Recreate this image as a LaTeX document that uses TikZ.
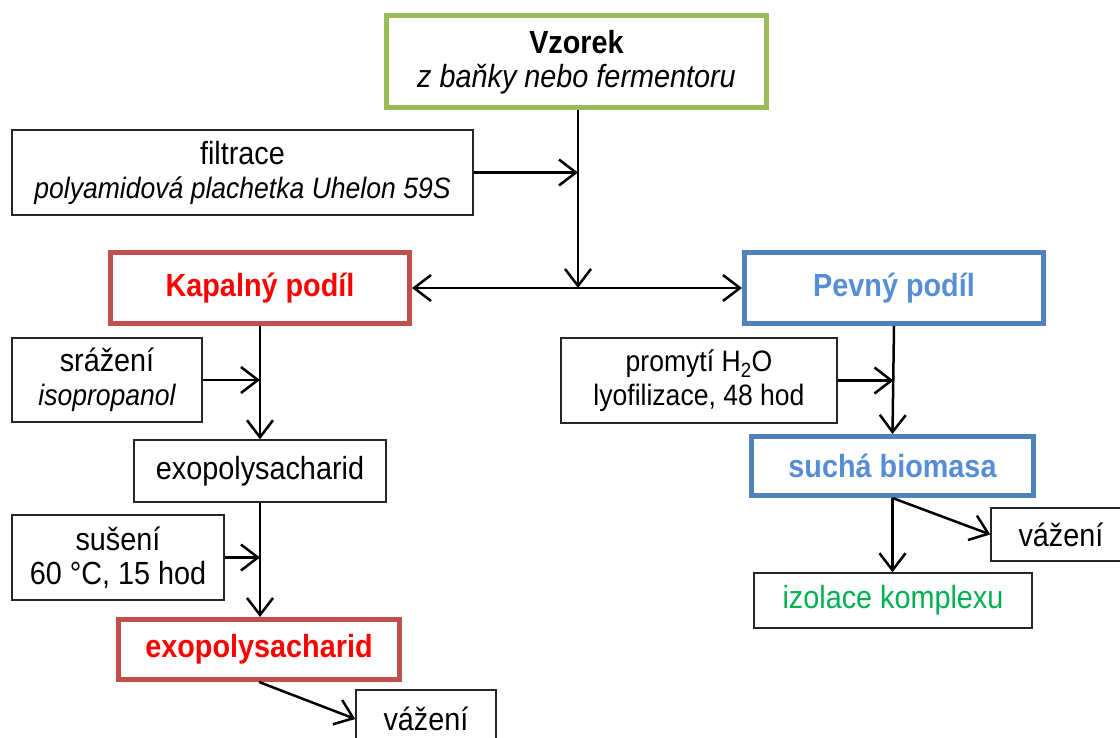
\documentclass[tikz,border=0pt]{standalone}
\usepackage{fontspec}
\setmainfont{Liberation Sans}[FakeStretch=0.9]
\usetikzlibrary{arrows.meta}
\definecolor{bgreen}{HTML}{9BBB59}
\definecolor{bred}{HTML}{C0504D}
\definecolor{bblue}{HTML}{4F81BD}
\definecolor{tred}{HTML}{FF0000}
\definecolor{tblue}{HTML}{558ED5}
\definecolor{tgreen}{HTML}{00B050}
\newcommand{\bigtxt}{\fontsize{32}{34}\selectfont}
\newcommand{\smtxt}{\fontsize{29.5}{34}\selectfont}
\tikzset{
  base/.style={rectangle, inner sep=0pt, align=center, font=\bigtxt},
  plain/.style={base, draw=black!85, line width=1.4pt},
  greenbox/.style={base, draw=bgreen, line width=5pt},
  redbox/.style={base, draw=bred, line width=5pt, text=tred, font=\bigtxt\bfseries},
  bluebox/.style={base, draw=bblue, line width=5pt, text=tblue, font=\bigtxt\bfseries},
  arr/.style={line width=2.5pt, -{Straight Barb[length=17pt,width=26pt]}},
}
\begin{document}
\begin{tikzpicture}[x=1pt,y=-1pt]
\useasboundingbox (0,0) rectangle (1120,738);
\clip (0,0) rectangle (1120,738);
\node[greenbox, minimum width=380pt, minimum height=92pt] (vz) at (576.5,62)
  {\textbf{Vzorek}\\\textit{z baňky nebo fermentoru}};
\node[plain, minimum width=461pt, minimum height=85pt] (fil) at (242.5,172.5)
  {filtrace\\\smtxt\itshape polyamidová plachetka Uhelon 59S};
\node[redbox, minimum width=299pt, minimum height=71pt] (kap) at (260,288) {Kapalný podíl};
\node[bluebox, minimum width=299pt, minimum height=71pt] (pev) at (894,288) {Pevný podíl};
\node[plain, minimum width=190pt, minimum height=84pt] (sra) at (107,380)
  {srážení\\\smtxt\itshape isopropanol};
\node[plain, minimum width=252pt, minimum height=62pt] (exo) at (260,471) {exopolysacharid};
\node[plain, minimum width=212pt, minimum height=85pt] (sus) at (118,557.5)
  {sušení\\60 °C, 15 hod};
\node[redbox, minimum width=281pt, minimum height=60pt] (exr) at (259,649.5) {exopolysacharid};
\node[plain, minimum width=140pt, minimum height=58pt] (vaz1) at (426,719) {vážení};
\node[plain, minimum width=276pt, minimum height=85pt, font=\smtxt] (pro) at (699,380.5)
  {promytí H\textsubscript{2}O\\lyofilizace, 48 hod};
\node[bluebox, minimum width=282pt, minimum height=59pt] (suc) at (892.5,466) {suchá biomasa};
\node[plain, minimum width=140pt, minimum height=53pt] (vaz2) at (1061,534.5) {vážení};
\node[plain, minimum width=278pt, minimum height=55pt, text=tgreen] (izo) at (893,600.5) {izolace komplexu};
\coordinate (J) at (578,288);
\draw[arr] (vz.south -| J) -- (J);
\draw[arr] (fil.east) -- (fil.east -| J);
\draw[arr] (J) -- (kap.east);
\draw[arr] (J) -- (pev.west);
\draw[arr] (kap.south) -- (exo.north);
\draw[arr] (sra.east) -- (sra.east -| kap.south);
\draw[arr] (exo.south) -- (exr.north -| exo.south);
\draw[arr] (sus.east) -- (sus.east -| exo.south);
\draw[arr] (exr.south) -- (vaz1.west);
\draw[arr] (pev.south) -- (suc.north);
\draw[arr] (pro.east) -- ([xshift=-0.5pt]pro.east -| pev.south);
\draw[arr] (suc.south) -- (izo.north -| suc.south);
\draw[arr] (suc.south) -- (vaz2.west);
\end{tikzpicture}
\end{document}
